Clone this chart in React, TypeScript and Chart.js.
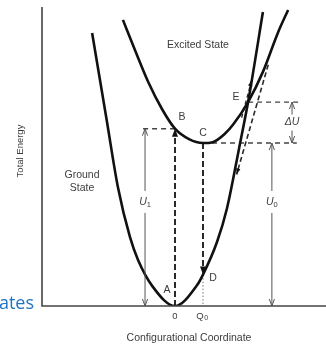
import { useEffect, useRef } from "react";
import { Chart, registerables } from "chart.js";

Chart.register(...registerables);

// Potential-energy curves: configurational coordinate Q vs. total energy U
const groundQ = [-2.96, -2.44, -2.04, -1.61, -1.32, -0.79, 0, 0.79, 1.0, 1.5, 1.86, 2.29, 2.61, 3.14];
const groundU = [9.13, 6.22, 3.98, 2.31, 1.54, 0.64, 0, 0.7, 1.05, 2.14, 3.28, 5.28, 6.82, 9.83];

const excitedQ = [-1.86, -1.43, -0.96, -0.46, 0, 0.5, 1.0, 1.35, 1.79, 2.07, 2.61, 3.14, 3.68, 4.04];
const excitedU = [9.57, 8.56, 7.5, 6.58, 5.93, 5.58, 5.45, 5.48, 5.77, 6.06, 6.82, 7.83, 9.15, 9.9];

// Labelled states on the curves
const pointNames = ["A", "B", "C", "D", "E"];
const pointQ = [0, 0, 1, 1, 2.61];
const pointU = [0, 5.93, 5.45, 1.05, 6.82];

// Coordinate ticks
const tickQ = [0, 1];
const tickLabels = ["0", "Q₀"];

// Energy-difference markers (U1, U0, ΔU)
const u1Q = -1.07;
const u0Q = 3.46;
const dUQ = 4.18;
const levelLabelU = 3.48;

// Horizontal guide extents
const bGuideStartQ = -1.14;
const cGuideEndQ = 4.35;
const eGuideEndQ = 4.46;

// Thermal crossing path near E
const slantQ = [3.33, 2.2];
const slantU = [8.07, 4.4];
const nearEQ = [2.74, 2.38];
const nearEU = [7.55, 6.3];

const FONT = "'Liberation Sans', Arial, Helvetica, sans-serif";
const INK = "#3c3c3c";

const pt = (name: string) => {
  const i = pointNames.indexOf(name);
  return { x: pointQ[i], y: pointU[i] };
};

const curve = (qs: number[], us: number[]) => qs.map((q, i) => ({ x: q, y: us[i] }));

const overlay = {
  id: "overlay",
  afterDatasetsDraw(chart: any) {
    const { ctx, chartArea: a, scales } = chart;
    const px = (q: number) => scales.x.getPixelForValue(q);
    const py = (u: number) => scales.y.getPixelForValue(u);
    ctx.save();

    // axes
    ctx.strokeStyle = "#444";
    ctx.lineWidth = 1.6;
    ctx.setLineDash([]);
    ctx.beginPath();
    ctx.moveTo(a.left, a.top);
    ctx.lineTo(a.left, a.bottom);
    ctx.lineTo(a.right, a.bottom);
    ctx.stroke();

    const filledArrow = (x: number, y: number, dx: number, dy: number, len = 8, half = 3) => {
      const l = Math.hypot(dx, dy);
      const ux = dx / l;
      const uy = dy / l;
      ctx.fillStyle = "#111";
      ctx.beginPath();
      ctx.moveTo(x, y);
      ctx.lineTo(x - ux * len - uy * half, y - uy * len + ux * half);
      ctx.lineTo(x - ux * len + uy * half, y - uy * len - ux * half);
      ctx.closePath();
      ctx.fill();
    };

    const openArrow = (x: number, y: number, dir: number) => {
      ctx.beginPath();
      ctx.moveTo(x - 2.6, y - dir * 7);
      ctx.lineTo(x, y);
      ctx.lineTo(x + 2.6, y - dir * 7);
      ctx.stroke();
    };

    const text = (s: string, x: number, y: number, size: number, align = "center", italic = false, color = INK) => {
      ctx.font = `${italic ? "italic " : ""}${size}px ${FONT}`;
      ctx.fillStyle = color;
      ctx.textAlign = align;
      ctx.textBaseline = "middle";
      ctx.fillText(s, x, y);
    };

    const subLabel = (main: string, sub: string, x: number, y: number, italic: boolean) => {
      ctx.font = `${italic ? "italic " : ""}10.5px ${FONT}`;
      const w1 = ctx.measureText(main).width;
      ctx.font = `7.5px ${FONT}`;
      const w2 = ctx.measureText(sub).width;
      const x0 = x - (w1 + w2) / 2;
      text(main, x0, y, 10.5, "left", italic);
      text(sub, x0 + w1, y + 3, 7.5, "left");
    };

    // measurement arrows with a gap for the label
    const measure = (q: number, uTop: number, uBot: number, labelY: number, gap: number) => {
      const x = px(q);
      const yt = py(uTop);
      const yb = py(uBot);
      ctx.strokeStyle = "#555";
      ctx.lineWidth = 1;
      ctx.setLineDash([]);
      ctx.beginPath();
      ctx.moveTo(x, yt);
      ctx.lineTo(x, labelY - gap);
      ctx.moveTo(x, labelY + gap);
      ctx.lineTo(x, yb);
      ctx.stroke();
      openArrow(x, yt, -1);
      openArrow(x, yb, 1);
    };

    const A = pt("A");
    const B = pt("B");
    const C = pt("C");
    const D = pt("D");
    const E = pt("E");

    const labelY = py(levelLabelU);
    measure(u1Q, B.y, 0, labelY, 11);
    measure(u0Q, C.y, 0, labelY, 11);
    const dUy = (py(E.y) + py(C.y)) / 2;
    measure(dUQ, E.y, C.y, dUy, 8);

    subLabel("U", "1", px(u1Q), labelY, true);
    subLabel("U", "0", px(u0Q), labelY, true);
    text("ΔU", px(dUQ), dUy, 10.5, "center", true);

    // transition arrowheads
    filledArrow(px(B.x), py(B.y), 0, -1);
    filledArrow(px(D.x), py(D.y), 0, 1);
    filledArrow(px(slantQ[1]), py(slantU[1]), px(slantQ[1]) - px(slantQ[0]), py(slantU[1]) - py(slantU[0]), 6, 2.2);
    filledArrow(px(nearEQ[0]), py(nearEU[0]), px(nearEQ[0]) - px(nearEQ[1]), py(nearEU[0]) - py(nearEU[1]), 6, 2.2);

    // point letters
    text("A", px(A.x) - 8, py(A.y) - 16, 10.5);
    text("B", px(B.x) + 7, py(B.y) - 12, 10.5);
    text("C", px(C.x), py(C.y) - 10, 10.5);
    text("D", px(D.x) + 10, py(D.y) + 4, 10.5);
    text("E", px(E.x) - 12, py(E.y) - 5, 10.5);

    // curve names
    text("Excited State", px(0.82), py(8.73), 10.5);
    text("Ground", px(-3.32), py(4.38), 10.5);
    text("State", px(-3.32), py(3.95), 10.5);

    // coordinate ticks
    tickQ.forEach((q, i) => {
      if (tickLabels[i] === "Q₀") {
        const x = px(q);
        ctx.font = `9.5px ${FONT}`;
        const w1 = ctx.measureText("Q").width;
        text("Q", x - 3, a.bottom + 10, 9.5, "center");
        text("0", x - 3 + w1 / 2 + 0.5, a.bottom + 12.5, 7, "left");
      } else {
        text(tickLabels[i], px(q), a.bottom + 10, 9.5);
      }
    });

    // axis titles
    text("Configurational Coordinate", 189, a.bottom + 32, 10.5);
    ctx.save();
    ctx.translate(20, 151);
    ctx.rotate(-Math.PI / 2);
    text("Total Energy", 0, 0, 9.5);
    ctx.restore();

    // heading fragment at the lower left
    ctx.font = "18px 'Open Sans', 'Noto Sans', sans-serif";
    ctx.fillStyle = "#1f72c4";
    ctx.textAlign = "right";
    ctx.textBaseline = "alphabetic";
    ctx.fillText("States", 34, 309);

    ctx.restore();
  },
};

export default function App() {
  const ref = useRef<HTMLCanvasElement | null>(null);

  useEffect(() => {
    if (!ref.current) return;
    const B = pt("B");
    const C = pt("C");
    const D = pt("D");
    const E = pt("E");
    const A = pt("A");

    const dashed = (data: any[], dash: number[], width: number, color = "#2a2a2a") => ({
      data,
      showLine: true,
      borderColor: color,
      borderWidth: width,
      borderDash: dash,
      pointRadius: 0,
      fill: false,
    });

    const chart = new Chart(ref.current, {
      type: "scatter",
      data: {
        datasets: [
          {
            data: curve(groundQ, groundU),
            showLine: true,
            borderColor: "#111",
            borderWidth: 2.6,
            cubicInterpolationMode: "monotone",
            pointRadius: 0,
          },
          {
            data: curve(excitedQ, excitedU),
            showLine: true,
            borderColor: "#111",
            borderWidth: 2.6,
            cubicInterpolationMode: "monotone",
            pointRadius: 0,
          },
          dashed([A, { x: B.x, y: B.y - 0.25 }], [6, 3], 2),
          dashed([C, { x: D.x, y: D.y + 0.25 }], [6, 3], 2),
          dashed([D, { x: D.x, y: 0 }], [1.5, 2], 1, "#777"),
          dashed([{ x: bGuideStartQ, y: B.y }, B], [5, 4], 1.4, "#444"),
          dashed([C, { x: cGuideEndQ, y: C.y }], [5, 4], 1.4, "#444"),
          dashed([E, { x: eGuideEndQ, y: E.y }], [5, 4], 1.4, "#444"),
          dashed(curve(slantQ, slantU), [5, 3], 1.6),
          dashed(curve(nearEQ, nearEU), [4, 3], 1.4),
        ] as any,
      },
      options: {
        responsive: false,
        animation: false,
        devicePixelRatio: 1,
        events: [],
        layout: { padding: { left: 42, right: 0, top: 7, bottom: 43 } },
        scales: {
          x: { type: "linear", display: false, min: -4.75, max: 5.393 },
          y: { type: "linear", display: false, min: 0, max: 10 },
        },
        plugins: { legend: { display: false }, tooltip: { enabled: false } },
      } as any,
      plugins: [overlay],
    });
    return () => chart.destroy();
  }, []);

  return (
    <div style={{ position: "absolute", left: 0, top: 0, width: 326, height: 349, background: "#fff" }}>
      <canvas ref={ref} width={326} height={349} style={{ display: "block" }} />
    </div>
  );
}
